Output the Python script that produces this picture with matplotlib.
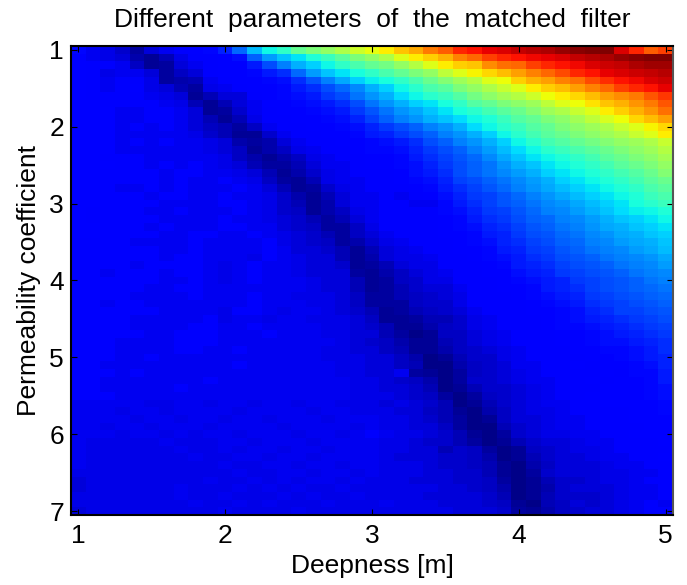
import matplotlib
matplotlib.use("Agg")
import matplotlib.pyplot as plt
import numpy as np

plt.rcParams["font.family"] = ["Liberation Sans", "DejaVu Sans"]

deepness_ticks = [1, 2, 3, 4, 5]
coefficient_ticks = [1, 2, 3, 4, 5, 6, 7]
deepness_step = 0.1
coefficient_step = 0.1

# one row per coefficient step (1.0 to 7.0), one column per deepness step (1.0 to 5.0)
# response in percent of the colour range
response = [
    [13,10,9,7,3,8,10,11,12,13,16,23,31,37,41,47,50,53,56,60,63,66,70,73,78,81,87,89,91,92,94,95,96,98,99,100,100,92,87,81,84],
    [11,10,9,8,4,2,5,9,11,11,12,14,22,28,32,35,39,42,46,50,53,56,62,66,69,72,77,80,84,87,89,90,91,92,94,95,96,98,99,100,100],
    [12,11,11,10,6,2,3,8,10,11,12,12,15,20,25,30,33,37,41,44,47,49,53,57,62,66,69,70,76,79,80,84,87,89,90,92,93,94,96,97,97],
    [12,11,9,10,10,8,3,6,8,11,12,12,13,15,17,23,28,32,35,38,41,44,47,50,53,58,62,65,68,71,74,77,80,83,87,89,91,92,93,94,95],
    [12,11,10,11,11,9,3,4,5,10,11,12,12,13,14,17,21,25,29,33,36,38,41,44,48,51,54,57,62,64,69,72,74,77,79,83,86,89,90,92,93],
    [12,11,10,11,12,9,8,5,3,9,10,11,12,12,13,15,17,20,23,26,30,33,37,40,44,46,50,53,56,59,62,66,69,71,74,77,80,84,87,89,91],
    [12,11,11,11,11,10,9,8,2,5,8,8,11,12,13,14,15,18,20,24,27,30,34,37,40,42,45,49,52,55,57,60,64,66,68,71,74,76,78,82,85],
    [12,12,11,11,11,11,10,9,5,2,5,8,10,12,12,13,14,15,17,20,24,27,30,33,35,38,41,45,47,50,52,54,58,62,64,67,70,72,75,78,82],
    [12,12,12,10,10,11,11,10,8,2,3,7,10,11,12,12,13,14,15,18,21,24,27,29,32,35,38,40,43,46,48,51,54,56,59,62,66,69,72,75,79],
    [12,12,12,10,10,11,11,10,8,5,2,5,9,11,11,12,12,13,14,16,19,22,25,27,30,32,34,37,39,42,45,47,50,52,55,58,61,64,68,71,74],
    [12,12,12,10,11,10,11,10,8,6,5,3,6,10,11,11,12,12,13,14,16,18,20,22,25,27,30,34,37,40,42,45,47,50,52,54,56,59,62,65,68],
    [12,12,12,10,10,10,10,10,9,7,5,2,2,7,10,11,11,12,12,13,15,16,18,20,22,25,27,30,33,37,40,43,46,48,50,52,54,56,59,62,66],
    [12,12,12,10,11,10,11,10,10,9,8,4,3,4,8,10,11,11,12,12,13,14,15,17,20,22,25,27,30,33,37,40,43,45,47,49,51,53,54,56,59],
    [12,12,12,10,10,10,10,10,10,9,8,6,2,4,6,9,10,11,11,12,13,13,14,16,18,20,22,25,28,31,34,37,40,42,44,46,48,50,52,54,57],
    [12,12,11,11,11,10,10,10,10,10,9,6,4,2,4,6,9,10,11,11,12,12,13,15,17,19,21,23,26,29,32,35,37,39,41,43,46,48,50,52,55],
    [12,12,12,11,11,10,11,10,11,10,9,8,5,3,3,5,8,10,10,11,12,12,13,14,16,18,20,22,24,27,30,32,35,37,39,41,43,46,48,50,53],
    [12,12,11,11,11,11,10,11,11,10,10,9,8,5,2,4,7,9,10,11,11,11,12,14,15,17,20,22,24,26,28,30,33,35,37,39,41,43,45,48,51],
    [12,12,11,11,11,11,10,11,10,10,11,10,9,6,3,2,5,9,10,10,11,11,12,13,14,16,19,20,22,24,26,28,30,33,35,37,39,41,43,46,48],
    [12,12,11,10,10,11,10,11,10,10,10,11,10,8,5,2,3,7,9,10,11,11,11,12,13,15,17,19,21,23,25,27,29,31,33,35,37,39,41,44,46],
    [12,12,11,11,11,10,11,11,10,10,11,10,10,9,7,4,2,5,8,10,10,11,10,11,12,14,16,18,19,21,23,25,27,29,31,33,35,37,39,42,44],
    [12,12,11,11,11,11,10,10,10,10,11,11,10,9,7,5,2,4,8,10,10,11,11,10,10,13,15,17,19,21,22,24,26,27,29,31,33,35,38,40,42],
    [12,11,11,11,11,10,10,11,10,10,10,11,10,9,7,6,2,4,6,9,10,11,11,11,11,13,14,16,18,19,21,23,25,26,28,30,32,34,36,37,39],
    [12,11,11,11,11,11,10,10,10,10,11,10,10,9,8,7,5,3,5,8,10,11,11,11,11,12,13,15,17,18,20,22,23,25,26,28,30,32,33,35,37],
    [12,12,11,11,11,10,11,10,10,10,11,11,10,10,8,7,6,3,3,6,9,11,11,11,11,12,13,14,16,17,19,21,22,24,25,27,29,30,32,33,35],
    [12,12,11,11,11,11,10,10,11,11,10,10,11,10,9,8,7,5,3,6,8,10,11,11,11,12,12,13,15,16,18,20,21,23,24,26,27,29,30,32,33],
    [11,11,11,11,10,10,10,10,11,10,10,10,10,11,9,8,7,6,3,4,7,9,10,11,11,11,12,13,14,16,17,19,20,22,23,25,26,28,29,30,32],
    [11,11,11,11,11,11,10,10,11,10,10,10,10,11,10,8,8,7,5,2,5,8,9,10,11,11,12,12,13,15,16,18,19,21,22,24,25,26,28,29,31],
    [11,11,11,11,11,11,10,11,11,10,10,10,9,11,10,9,8,8,5,2,4,8,9,9,10,11,11,12,13,14,15,17,18,20,21,22,24,25,26,27,29],
    [11,11,11,11,10,11,11,11,11,10,9,10,11,10,10,9,8,8,7,2,3,5,8,9,9,11,11,11,12,13,15,16,17,19,20,21,22,24,25,26,28],
    [11,11,10,11,11,11,10,11,11,10,9,10,11,10,10,9,8,8,8,3,2,4,6,8,9,10,11,11,12,12,14,15,16,18,19,20,21,22,24,25,26],
    [11,11,11,11,11,11,10,10,11,10,9,10,11,10,10,10,9,8,8,5,2,3,6,7,9,9,11,11,11,12,13,14,15,16,18,19,20,21,22,24,25],
    [11,11,11,11,11,10,10,11,11,10,10,10,10,10,10,10,9,8,8,5,2,3,5,7,8,8,10,11,11,12,12,13,15,16,17,19,20,21,22,23,24],
    [11,11,11,11,10,10,10,10,11,10,10,10,11,10,10,9,9,9,8,6,3,3,5,6,7,8,9,11,11,11,12,13,14,15,16,18,19,20,21,22,23],
    [11,11,10,11,11,10,10,10,10,10,10,10,11,10,10,10,9,9,8,6,3,3,3,6,7,7,9,11,11,11,11,12,13,14,15,17,18,19,20,21,22],
    [11,11,11,11,11,11,10,10,10,10,9,11,11,10,9,10,10,9,8,7,5,2,3,5,6,7,8,10,11,11,11,12,12,13,14,16,17,19,19,20,21],
    [11,11,11,11,10,10,10,10,10,11,9,10,10,9,10,10,9,9,9,8,6,2,2,3,5,5,7,9,10,11,11,11,12,13,14,15,16,17,18,19,20],
    [11,11,11,11,10,10,10,10,11,11,10,10,11,10,10,10,10,9,9,8,7,5,2,2,4,6,7,9,10,11,11,11,12,13,13,14,15,16,17,18,19],
    [11,11,11,11,11,10,10,11,11,11,10,10,10,11,10,10,10,9,9,8,8,5,3,1,2,6,6,8,9,10,11,11,11,12,12,13,14,15,16,17,18],
    [11,11,11,10,10,10,10,11,11,11,10,10,10,10,10,10,10,10,9,8,7,6,4,2,2,5,6,8,9,10,11,11,11,12,12,13,14,14,15,16,17],
    [11,11,11,10,10,10,10,11,11,10,10,11,10,10,10,10,10,9,9,8,8,6,5,2,2,4,6,7,8,9,10,11,11,11,12,12,13,13,14,15,17],
    [11,11,11,10,10,11,10,10,10,10,10,10,10,10,10,10,10,9,9,9,8,8,6,4,1,2,5,7,7,9,10,11,11,11,11,12,12,13,14,15,16],
    [11,11,10,10,10,10,10,10,10,10,10,11,10,10,10,10,10,10,9,9,8,8,6,5,1,1,4,6,7,8,10,10,11,11,12,11,12,12,13,14,16],
    [11,11,11,10,11,10,10,10,10,10,10,10,10,10,10,10,10,10,9,9,8,8,10,3,2,1,3,6,7,8,9,10,11,11,11,11,12,11,13,13,15],
    [11,11,10,10,10,10,10,10,10,11,10,10,10,10,10,10,10,10,10,9,9,8,7,6,4,1,3,7,7,8,9,10,10,11,11,12,11,12,12,13,15],
    [11,11,10,10,10,10,10,11,10,10,10,10,10,10,10,10,10,10,10,9,9,8,8,7,5,1,2,5,7,7,8,9,10,11,11,11,12,12,12,13,14],
    [11,11,11,10,10,10,10,10,10,10,10,10,10,10,10,10,10,10,10,9,9,9,8,7,6,3,1,3,6,7,8,9,10,11,11,12,12,12,12,13,14],
    [10,10,10,10,10,9,9,10,10,9,10,10,9,10,10,9,10,10,9,9,9,8,9,8,7,5,1,2,5,7,8,9,10,10,11,11,12,12,12,12,13],
    [10,10,10,9,10,10,9,10,10,10,10,9,10,10,10,10,9,10,10,9,9,9,8,8,6,5,2,1,4,6,8,9,9,10,11,11,11,11,12,12,13],
    [10,10,10,10,9,10,10,9,10,10,9,10,10,9,10,10,10,9,10,10,10,9,9,8,7,5,3,1,2,6,8,8,9,10,10,11,11,11,12,12,12],
    [10,10,9,10,10,9,10,10,10,9,10,10,10,10,9,10,10,10,10,9,10,9,9,8,8,6,3,1,1,5,7,8,9,10,10,11,11,11,11,12,12],
    [10,10,10,9,10,10,9,10,9,10,10,9,10,10,10,9,10,10,9,10,11,10,9,9,8,7,5,2,1,3,7,8,9,9,10,10,11,11,12,12,12],
    [10,9,9,9,9,9,10,9,9,9,10,10,9,10,10,10,9,10,10,10,10,9,9,8,7,7,5,3,1,2,5,7,8,8,9,10,10,11,11,11,12],
    [10,9,9,9,9,9,9,10,9,9,10,9,10,10,9,10,10,9,10,10,10,9,9,8,8,5,7,6,3,1,2,6,7,8,9,9,10,11,11,11,11],
    [10,9,9,9,9,9,9,9,10,9,9,10,10,9,10,10,9,10,10,10,10,9,8,8,8,7,7,6,4,1,2,5,7,8,8,9,10,10,11,11,12],
    [10,9,9,9,9,9,9,9,9,9,10,9,9,10,10,9,10,10,9,10,10,9,9,9,8,7,7,6,5,2,1,4,6,8,8,8,9,10,10,11,11],
    [9,9,9,9,9,9,9,9,9,9,9,10,9,9,10,10,9,10,10,9,10,9,9,9,8,8,7,7,5,2,1,3,7,8,8,8,9,9,10,10,11],
    [8,9,9,9,9,9,9,9,9,10,9,9,10,9,10,9,10,10,9,10,9,9,9,8,8,8,7,7,6,3,1,2,5,7,7,8,9,9,10,11,11],
    [8,9,9,9,9,9,9,10,9,9,9,10,9,10,9,10,9,9,10,9,9,9,9,9,9,8,8,7,6,4,1,2,4,7,8,8,8,9,10,10,11],
    [9,9,9,9,9,9,9,10,9,9,10,9,9,9,10,9,10,9,9,10,9,9,9,9,8,8,8,8,7,5,1,2,5,7,7,7,8,9,10,10,11],
    [9,9,9,9,9,9,9,9,10,9,9,10,9,10,9,9,9,10,9,9,9,10,9,9,9,8,8,8,7,6,2,1,5,6,8,7,8,9,10,11,10],
    [8,9,9,9,9,9,9,9,9,9,10,9,9,9,9,10,9,9,9,9,9,9,9,9,9,9,8,8,8,7,3,2,4,6,7,8,8,9,10,11,11],
]


def main():
    fig = plt.figure(figsize=(6.87, 5.85), dpi=100)
    ax = fig.add_axes([71 / 687, 1 - 515 / 585, 602 / 687, 469 / 585])

    half_x, half_y = deepness_step / 2, coefficient_step / 2
    extent = (deepness_ticks[0] - half_x, deepness_ticks[-1] + half_x,
              coefficient_ticks[-1] + half_y, coefficient_ticks[0] - half_y)
    ax.imshow(np.array(response), cmap="jet", vmin=0, vmax=100, extent=extent,
              aspect="auto", interpolation="nearest")

    ax.set_xticks(deepness_ticks)
    ax.set_yticks(coefficient_ticks)
    ax.tick_params(direction="in", length=4, width=0.8, top=True, right=True,
                   labelsize=19, color="black")
    ax.tick_params(axis="x", pad=6.5)
    ax.tick_params(axis="y", pad=5)
    ax.set_xlabel("Deepness [m]", fontsize=19, labelpad=4)
    ax.set_ylabel("Permeability coefficient", fontsize=19, labelpad=6)
    ax.set_title("Different  parameters  of  the  matched  filter", fontsize=19, pad=14)

    for name, spine in ax.spines.items():
        spine.set_linewidth(1.5)
        spine.set_color("#555555" if name == "right" else "black")

    fig.savefig("out.png", dpi=100)


if __name__ == "__main__":
    main()
